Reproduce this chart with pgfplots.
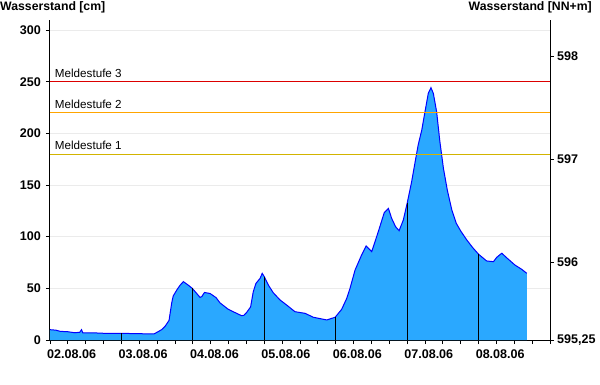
\documentclass[border=0pt]{standalone}
\usepackage{pgfplots}
\pgfplotsset{compat=1.18}
\usepackage{pgfplotstable}
\usepackage{fontspec}
\setmainfont{Liberation Sans}
\usetikzlibrary{calc}
\definecolor{fillblue}{RGB}{42,168,255}
\definecolor{ms3}{RGB}{220,0,0}
\definecolor{ms2}{RGB}{255,165,0}
\definecolor{ms1}{RGB}{210,180,0}

\pgfplotstableread{
h v
0 10
2 9.5
3.4 8.4
6 8
8.4 7
10 7.5
10.6 10
11 7
14 7
18 6.5
23.5 6.5
28 6.2
32 6
35 6
36.3 8
37.5 10
38.6 13
40 19
40.9 36
41.4 42.6
42.6 48.4
43.7 53
44.8 56.5
46.5 53
47.8 50
49 46
50.4 41.3
51 42
51.9 46
53.8 45
55.8 41
57.1 36
59.9 29.7
62.7 25.8
64.4 23.5
65.2 24
66.1 26.8
67.4 32
68.3 46.8
69.2 54.8
70.6 59.7
71.3 64.5
72 61.3
73.4 53
75 45.8
77.3 38.7
79.5 33.9
82.3 27.4
85.7 25.8
88.5 22
93 19.4
95.8 22
98 29.7
99.7 40.3
100.8 50
102.5 67.7
104.7 82.3
106.2 91
108.1 85.5
110.3 104.8
112.3 123.2
113.7 127.4
114.8 117.7
116.1 109.7
117.3 105.8
118.7 116
120 132.3
121.5 153
122.6 171
123.7 188.7
124.9 203
126 221
127.1 238.7
128 244.2
128.8 238.7
129.9 221
131 192
132.2 166
133.5 145
135 126
136.5 113
138 105.5
140 97
142 89.5
144 83
146.7 76.5
149 75.8
150.1 80
151.8 84
153.4 79.7
156.2 72.6
158.5 68.4
160.2 64.5
}\wdata

\begin{document}
\begin{tikzpicture}
\begin{axis}[name=main, scale only axis, width=500bp, height=320bp,
  xmin=0, xmax=168, ymin=0, ymax=309.7,
  axis x line*=bottom, axis y line*=left,
  axis line style={black, line width=1bp, -},
  xtick={0,24,...,168}, minor xtick={6,12,...,162},
  xticklabels={02.08.06,03.08.06,04.08.06,05.08.06,06.08.06,07.08.06,08.08.06,{}},
  ytick={0,50,...,300},
  tick align=outside, major tick length=4bp, minor tick length=4bp,
  tick style={black, line width=0.8bp},
  ymajorgrids, grid style={black!8, line width=0.8bp},
  tick label style={font=\fontsize{12.6}{14}\selectfont\bfseries},
  /pgf/number format/assume math mode=true,
  xticklabel style={anchor=north west, inner sep=0pt, xshift=-3bp, yshift=-6bp},
  yticklabel style={inner sep=0pt, xshift=-5bp},
  clip=false,
]
\addplot[fill=fillblue, draw=none] table[x=h, y=v] {\wdata} \closedcycle;
\addplot[blue, line width=1bp] table[x=h, y=v] {\wdata};
\addplot[ycomb, black, line width=1bp, no marks] coordinates {(24,6.5) (48,50) (72,61.3) (96,22) (120,132.3) (144,83)};
\addplot[ms3, line width=1bp, no marks] coordinates {(0,250) (168,250)};
\addplot[ms2, line width=1bp, no marks] coordinates {(0,220) (168,220)};
\addplot[ms1, line width=1bp, no marks] coordinates {(0,180) (168,180)};
\node[anchor=base west, inner sep=0pt, font=\fontsize{11.7}{13}\selectfont] at (axis cs:1.6,254) {Meldestufe 3};
\node[anchor=base west, inner sep=0pt, font=\fontsize{11.7}{13}\selectfont] at (axis cs:1.6,224) {Meldestufe 2};
\node[anchor=base west, inner sep=0pt, font=\fontsize{11.7}{13}\selectfont] at (axis cs:1.6,184) {Meldestufe 1};
\end{axis}
\begin{axis}[scale only axis, width=500bp, height=320bp,
  xmin=0, xmax=168, ymin=595.25, ymax=598.35,
  axis x line=none, axis y line*=right,
  axis line style={black, line width=1bp, -},
  ytick={595.25,596,597,598}, yticklabels={{595,25},596,597,598},
  tick align=outside, major tick length=4bp,
  tick style={black, line width=0.8bp},
  tick label style={font=\fontsize{12.6}{14}\selectfont\bfseries},
  yticklabel style={inner sep=0pt, xshift=3bp},
]
\end{axis}
\node[anchor=base west, inner sep=0pt, font=\fontsize{12.3}{14}\selectfont\bfseries] at ($(main.north west)+(-50bp,9bp)$) {Wasserstand [cm]};
\node[anchor=base east, inner sep=0pt, font=\fontsize{12.3}{14}\selectfont\bfseries] at ($(main.north east)+(42bp,9bp)$) {Wasserstand [NN+m]};
\pgfresetboundingbox
\path ($(main.south west)+(-50bp,-45bp)$) rectangle ($(main.north east)+(50bp,20bp)$);
\end{tikzpicture}
\end{document}
